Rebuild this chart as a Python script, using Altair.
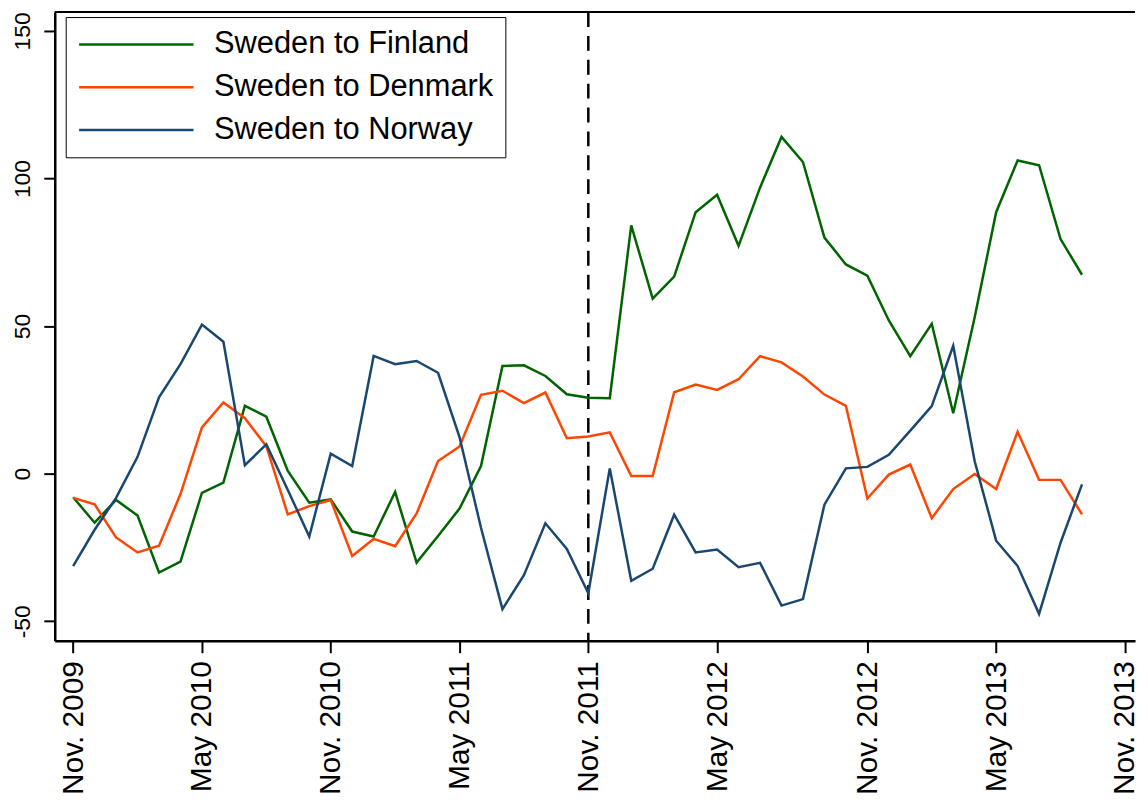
import altair as alt
import pandas as pd

# Monthly index 0 = Nov. 2009 ... 47 = Oct. 2013
MONTH_INDEX = list(range(48))

FINLAND = [-8.0, -16.6, -8.9, -14.2, -33.5, -29.8, -6.5, -3.0, 23.0, 19.3,
           0.9, -9.8, -8.7, -19.6, -21.3, -6.2, -30.1, -21.1, -11.8, 2.6,
           36.5, 36.7, 33.1, 26.9, 25.7, 25.6, 84.1, 59.3, 66.8, 88.6,
           94.5, 77.2, 96.9, 114.1, 105.6, 80.0, 70.9, 67.1, 51.9, 39.8,
           50.8, 20.5, 53.0, 88.6, 106.1, 104.5, 79.5, 67.4]

DENMARK = [-8.2, -10.4, -21.6, -26.7, -24.4, -6.9, 15.7, 24.1, 18.8, 9.3,
           -13.8, -11.0, -8.9, -27.9, -22.1, -24.6, -13.5, 4.3, 9.2, 26.7,
           28.1, 23.9, 27.5, 12.0, 12.6, 14.0, -0.8, -0.8, 27.6, 30.2,
           28.4, 32.0, 39.8, 37.7, 32.9, 26.8, 23.0, -8.4, -0.3, 3.1,
           -15.1, -5.2, -0.1, -5.2, 14.2, -2.1, -2.1, -13.8]

NORWAY = [-31.3, -19.0, -8.2, 5.7, 25.9, 37.1, 50.5, 44.7, 2.9, 9.9,
          -5.5, -21.3, 6.8, 2.6, 39.9, 37.1, 38.2, 34.2, 12.4, -18.3,
          -45.9, -34.4, -16.8, -25.5, -40.5, 1.8, -36.3, -32.2, -13.9, -26.7,
          -25.7, -31.7, -30.2, -44.7, -42.5, -10.5, 1.8, 2.3, 6.4, 14.6,
          22.9, 43.3, 4.2, -22.7, -31.3, -47.5, -23.4, -3.6]

SERIES_NAMES = ["Sweden to Finland", "Sweden to Denmark", "Sweden to Norway"]
SERIES_COLORS = ["#006400", "#FF4500", "#1A476F"]

TICK_POSITIONS = [0, 6, 12, 18, 24, 30, 37, 43, 49]
TICK_LABELS = ["Nov. 2009", "May 2010", "Nov. 2010", "May 2011", "Nov. 2011",
               "May 2012", "Nov. 2012", "May 2013", "Nov. 2013"]

Y_TICKS = [-50, 0, 50, 100, 150]
VLINE_AT = [24]

X_DOMAIN = [-0.857, 49.47]
Y_DOMAIN = [-56.6, 156.4]

FONT = "Liberation Sans"

rows = []
for name, vals in zip(SERIES_NAMES, [FINLAND, DENMARK, NORWAY]):
    for i, v in zip(MONTH_INDEX, vals):
        rows.append({"month": i, "value": v, "series": name})
df = pd.DataFrame(rows)

labels_js = "[" + ",".join("'" + s + "'" for s in TICK_LABELS) + "]"
pos_js = "[" + ",".join(str(p) for p in TICK_POSITIONS) + "]"

x_scale = alt.Scale(domain=X_DOMAIN, nice=False, zero=False)
y_scale = alt.Scale(domain=Y_DOMAIN, nice=False, zero=False)

lines = alt.Chart(df).mark_line(strokeWidth=2.5, clip=True).encode(
    x=alt.X("month:Q", scale=x_scale,
            axis=alt.Axis(values=TICK_POSITIONS, title=None,
                          labelExpr=labels_js + "[indexof(" + pos_js + ", datum.value)]",
                          labelAngle=-90, labelAlign="right", labelBaseline="middle",
                          labelFontSize=30, labelFont=FONT, labelColor="black",
                          tickSize=12, tickWidth=2, tickColor="black",
                          labelPadding=8, domainColor="black", domainWidth=2.5,
                          grid=False, labelOverlap=False, labelFlush=False)),
    y=alt.Y("value:Q", scale=y_scale,
            axis=alt.Axis(values=Y_TICKS, title=None, labelAngle=-90,
                          labelExpr="'' + datum.value",
                          labelAlign="center", labelBaseline="bottom",
                          labelFontSize=23, labelFont=FONT, labelColor="black",
                          tickSize=11, tickWidth=2, tickColor="black",
                          labelPadding=9, domainColor="black", domainWidth=2.5,
                          grid=False, labelOverlap=False, labelFlush=False)),
    color=alt.Color("series:N",
                    scale=alt.Scale(domain=SERIES_NAMES, range=SERIES_COLORS),
                    legend=alt.Legend(title=None, orient="none", legendX=11, legendY=5,
                                      symbolType="stroke", symbolSize=13225,
                                      symbolStrokeWidth=2.5, labelFontSize=31,
                                      labelFont=FONT, labelColor="black",
                                      labelOffset=19, rowPadding=11, padding=12,
                                      clipHeight=31,
                                      strokeColor="black", fillColor="white",
                                      labelLimit=400)),
    order=alt.Order("month:Q"),
)

vline = alt.Chart(pd.DataFrame({"x": VLINE_AT})).mark_rule(
    color="black", strokeWidth=2.5, strokeDash=[15, 9]
).encode(x=alt.X("x:Q", scale=x_scale))

top_line = alt.Chart(pd.DataFrame({"y": [Y_DOMAIN[1]]})).mark_rule(
    color="black", strokeWidth=2
).encode(y=alt.Y("y:Q", scale=y_scale))

chart = alt.layer(vline, lines, top_line).properties(
    width=1086, height=632,
    padding={"left": 3, "top": 0, "right": 0, "bottom": 0},
    background="white",
).configure_view(stroke=None)

chart.save("out.html", embed_options={"renderer": "svg", "actions": False})
